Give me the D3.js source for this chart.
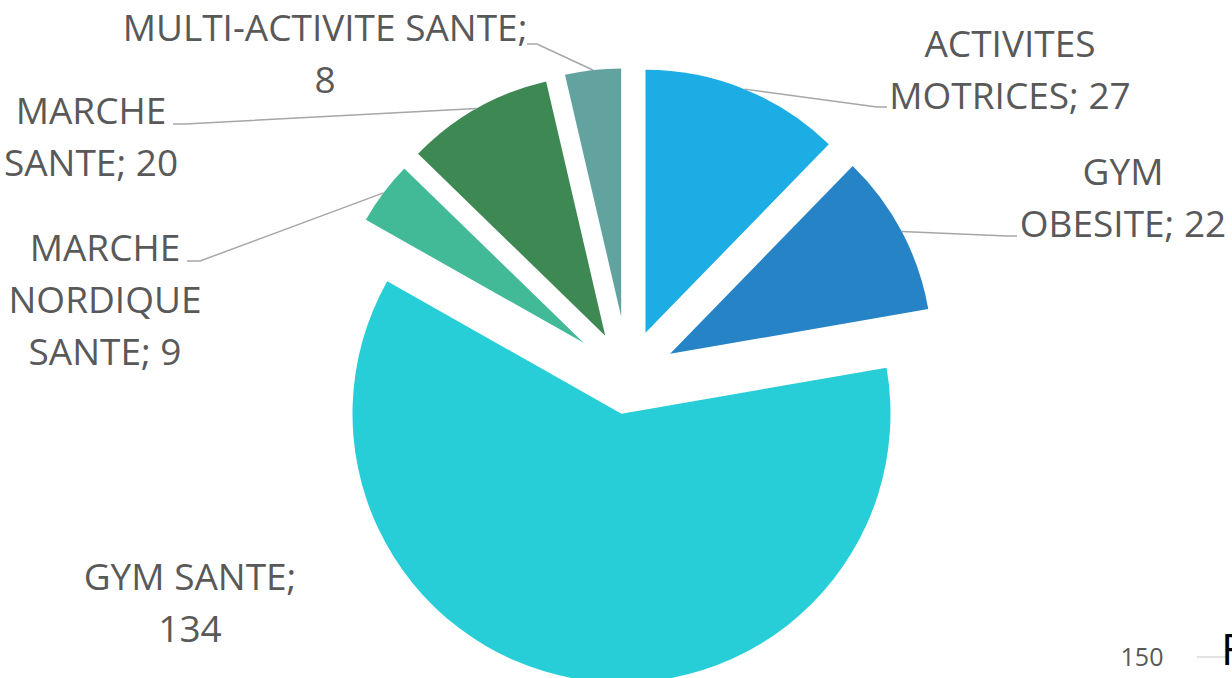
<!DOCTYPE html>
<html>
<head>
<meta charset="utf-8">
<script src="https://cdn.jsdelivr.net/npm/d3@7/dist/d3.min.js"></script>
<style>
  html, body { margin: 0; padding: 0; background: #fff; overflow: hidden; }
  svg { display: block; }
  .lbl { font-family: "Open Sans", sans-serif; font-size: 37px; fill: #595959; }
  .leader { fill: none; stroke: #a6a6a6; stroke-width: 1.5; }
</style>
</head>
<body>
<svg id="chart" width="1232" height="678"></svg>
<script>
// data
const categories = ["ACTIVITES MOTRICES", "GYM OBESITE", "GYM SANTE", "MARCHE NORDIQUE SANTE", "MARCHE SANTE", "MULTI-ACTIVITE SANTE"];
const values = [27, 22, 134, 9, 20, 8];
// label lines as they wrap in the picture
const labelLines = [
    ["ACTIVITES", "MOTRICES; 27"],
    ["GYM", "OBESITE; 22"],
    ["GYM SANTE;", "134"],
    ["MARCHE", "NORDIQUE", "SANTE; 9"],
    ["MARCHE", "SANTE; 20"],
    ["MULTI-ACTIVITE SANTE;", "8"]
];

// styles / layout
const colors = ["#1cade4", "#2683c6", "#27ced7", "#42ba97", "#3e8853", "#62a39f"];
const pieCenter = [628, 376];
const explode = [46.6, 47.6, 38.2, 55.5, 46.3, 60];
const radius = [263, 262, 269, 250, 261, 248];
// label block: center x, first baseline y, leader end (label side) or null
const labelPos = [
    { x: 1010, y: 57, leader: [[887, 107], [877, 107]] },
    { x: 1123, y: 185, leader: [[1017, 236], [1007, 236]] },
    { x: 190, y: 590, leader: null },
    { x: 105, y: 261, leader: [[187, 261], [200, 261]] },
    { x: 91, y: 124, leader: [[173, 124], [185, 124]] },
    { x: 325, y: 41, leader: [[527, 44], [537, 44]] }
];
const lineHeight = 52;

const svg = d3.select("#chart");

const pie = d3.pie().sort(null).value(d => d).startAngle(0).endAngle(2 * Math.PI);
const arcs = pie(values);

function apex(d, i) {
    const mid = (d.startAngle + d.endAngle) / 2;
    return [pieCenter[0] + explode[i] * Math.sin(mid), pieCenter[1] - explode[i] * Math.cos(mid)];
}

const g = svg.append("g");

g.selectAll("path.slice")
    .data(arcs)
    .enter().append("path")
    .attr("class", "slice")
    .attr("fill", (d, i) => colors[i])
    .attr("transform", (d, i) => "translate(" + apex(d, i) + ")")
    .attr("d", (d, i) => d3.arc().innerRadius(0).outerRadius(radius[i])(d));

// leader lines from the middle of each slice's outer edge
const line = d3.line();
g.selectAll("path.leader")
    .data(arcs.filter((d, i) => labelPos[i].leader))
    .enter().append("path")
    .attr("class", "leader")
    .attr("d", d => {
        const i = d.index;
        const mid = (d.startAngle + d.endAngle) / 2;
        const a = apex(d, i);
        const p = [a[0] + radius[i] * Math.sin(mid), a[1] - radius[i] * Math.cos(mid)];
        return line(labelPos[i].leader.concat([p]));
    });

// data labels
const lbl = g.selectAll("text.lbl")
    .data(arcs)
    .enter().append("text")
    .attr("class", "lbl")
    .attr("text-anchor", "middle");

lbl.selectAll("tspan")
    .data((d, i) => labelLines[i].map(t => ({ t: t, i: i })))
    .enter().append("tspan")
    .attr("x", d => labelPos[d.i].x)
    .attr("y", (d, k) => labelPos[d.i].y + k * lineHeight)
    .text(d => d.t);

// remains of a neighbouring chart at the bottom right corner
svg.append("text")
    .attr("x", 1142).attr("y", 666)
    .attr("text-anchor", "middle")
    .style("font-family", "'Open Sans', sans-serif")
    .style("font-size", "25px")
    .style("fill", "#595959")
    .text("150");
svg.append("line")
    .attr("x1", 1197).attr("x2", 1226)
    .attr("y1", 657).attr("y2", 657)
    .attr("stroke", "#d9d9d9").attr("stroke-width", 1.5);
svg.append("text")
    .attr("x", 1221).attr("y", 665)
    .style("font-family", "'Open Sans', sans-serif")
    .style("font-size", "44px")
    .style("fill", "#000")
    .text("F");
</script>
</body>
</html>
